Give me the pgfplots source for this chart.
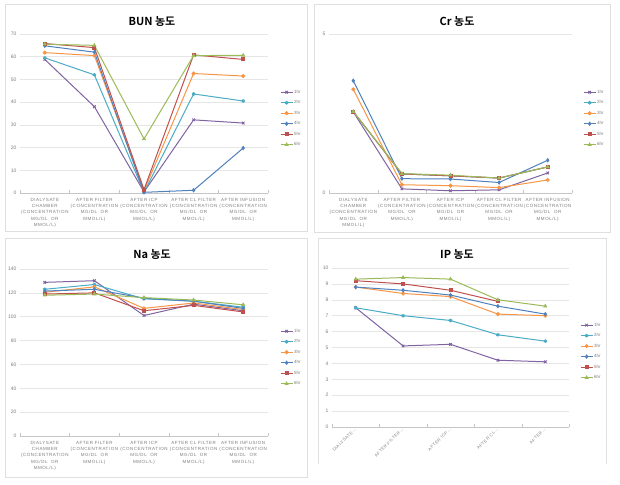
\documentclass[border=0pt]{standalone}
\usepackage{fontspec}
\usepackage{pgfplots}
\usepackage{pgfplotstable}
\pgfplotsset{compat=1.18}
\setmainfont{Liberation Sans}
\newfontfamily\kr{Noto Sans CJK KR}[BoldFont={Noto Sans CJK KR Bold}]
\newfontfamily\labfont{Liberation Sans}[LetterSpace=12]
\definecolor{c1}{HTML}{8064A2}
\definecolor{c2}{HTML}{4BACC6}
\definecolor{c3}{HTML}{F79646}
\definecolor{c4}{HTML}{4F81BD}
\definecolor{c5}{HTML}{C0504D}
\definecolor{c6}{HTML}{9BBB59}
\definecolor{tgray}{HTML}{7F7F7F}
\definecolor{ggray}{HTML}{E6E6E6}

\pgfplotstableread{
x s1 s2 s3 s4 s5 s6
0 58.8 59.5 61.8 64.8 65.8 65.5
1 38.0 52.0 60.5 62.0 64.0 65.0
2 0.5 0.3 1.0 0.3 1.5 23.8
3 32.2 43.6 52.6 1.2 60.8 60.5
4 30.8 40.5 51.5 19.8 58.8 60.6
}\bundata
\pgfplotstableread{
x s1 s2 s3 s4 s5 s6
0 2.55 2.56 3.26 3.53 2.56 2.56
1 0.13 0.60 0.26 0.45 0.60 0.61
2 0.07 0.54 0.23 0.44 0.54 0.56
3 0.10 0.47 0.17 0.33 0.47 0.47
4 0.63 0.82 0.41 1.03 0.82 0.82
}\crdata
\pgfplotstableread{
x s1 s2 s3 s4 s5 s6
0 128.8 123.0 120.5 121.5 119.0 118.0
1 130.2 127.0 125.0 123.0 120.0 119.0
2 101.0 115.0 107.0 115.5 105.0 116.0
3 110.5 113.0 111.5 113.0 109.5 114.0
4 105.0 108.0 106.0 107.0 104.0 110.0
}\nadata
\pgfplotstableread{
x s1 s2 s3 s4 s5 s6
0 7.5 7.5 8.8 8.8 9.2 9.3
1 5.1 7.0 8.4 8.6 9.0 9.4
2 5.2 6.7 8.2 8.3 8.6 9.3
3 4.2 5.8 7.1 7.6 7.9 8.0
4 4.1 5.4 7.0 7.1 nan 7.6
}\ipdata

\pgfplotsset{
  panel/.style={
    scale only axis,
    xmin=-0.5, xmax=4.5,
    xtick={0,...,4},
    minor xtick={-0.5,0.5,...,4.5},
    ymin=0,
    axis x line*=bottom, axis y line*=left,
    axis line style={-},
    x axis line style={draw=gray!45},
    y axis line style={draw=none},
    ymajorgrids, grid style={draw=ggray, line width=0.5pt},
    major tick length=0pt, minor tick length=3pt,
    tick style={draw=gray!45},
    /pgf/number format/assume math mode=true,
    yticklabel style={font=\fontsize{5}{6}\selectfont, text=tgray},
    xticklabel style={font=\labfont\fontsize{4.5}{6.3}\selectfont, text=tgray, align=center, yshift=-1.5pt},
    unbounded coords=jump,
    legend style={draw=none, fill=none, inner sep=0pt,
      font=\fontsize{4.5}{5}\selectfont, text=tgray,
      nodes={minimum height=10.5pt, inner sep=1pt}, row sep=0pt},
    legend cell align=left,
    legend image code/.code={\draw[mark repeat=2,mark phase=2] plot coordinates {(0pt,0pt) (6pt,0pt) (12pt,0pt)};},
    every axis plot/.append style={line width=1pt, mark size=1.5pt},
  },
  longlabels/.style={xticklabels={
    {DIALYSATE\\CHAMBER\\(CONCENTRATION\\MG/DL\ \ OR\\MMOL/L)},
    {AFTER FILTER\\(CONCENTRATION\\MG/DL\ \ OR\\MMOL/L)},
    {AFTER ICP\\(CONCENTRATION\\MG/DL\ \ OR\\MMOL/L)},
    {AFTER CL FILTER\\(CONCENTRATION\\MG/DL\ \ OR\\MMOL/L)},
    {AFTER INFUSION\\(CONCENTRATION\\MG/DL\ \ OR\\MMOL/L)}}},
  p1/.style={color=c1, mark=x, mark options={solid, scale=1.2}},
  p2/.style={color=c2, mark=asterisk, mark options={solid, scale=1.2}},
  p3/.style={color=c3, mark=*, mark options={solid}},
  p4/.style={color=c4, mark=diamond*, mark options={solid}},
  p5/.style={color=c5, mark=square*, mark options={solid}},
  p6/.style={color=c6, mark=triangle*, mark options={solid}},
}

\newcommand{\sixseries}[1]{%
  \addplot[p1] table[x=x,y=s1] {#1}; \addlegendentry{1hr}
  \addplot[p2] table[x=x,y=s2] {#1}; \addlegendentry{2hr}
  \addplot[p3] table[x=x,y=s3] {#1}; \addlegendentry{3hr}
  \addplot[p4] table[x=x,y=s4] {#1}; \addlegendentry{4hr}
  \addplot[p5] table[x=x,y=s5] {#1}; \addlegendentry{5hr}
  \addplot[p6] table[x=x,y=s6] {#1}; \addlegendentry{6hr}
}

\begin{document}
\begin{tikzpicture}
\useasboundingbox (0pt,0pt) rectangle (620pt,-484pt);
\fill[white] (0pt,0pt) rectangle (620pt,-484pt);
% frames
\draw[gray!25, line width=0.5pt] (5pt,-4pt) rectangle (307pt,-231pt);
\draw[gray!25, line width=0.5pt] (314pt,-4pt) rectangle (610pt,-232pt);
\draw[gray!25, line width=0.5pt] (5pt,-238pt) rectangle (307pt,-477pt);
\draw[gray!25, line width=0.5pt] (318pt,-464pt) -- (318pt,-238pt) -- (606pt,-238pt) -- (606pt,-464pt);
% titles
\node[font=\kr\bfseries\fontsize{11}{13}\selectfont] at (152pt,-21pt) {BUN 농도};
\node[font=\kr\bfseries\fontsize{11}{13}\selectfont] at (457pt,-21pt) {Cr 농도};
\node[font=\kr\bfseries\fontsize{11}{13}\selectfont] at (152pt,-254pt) {Na 농도};
\node[font=\kr\bfseries\fontsize{11}{13}\selectfont] at (457pt,-254pt) {IP 농도};

% BUN
\begin{axis}[panel, longlabels, at={(20pt,-193pt)}, anchor=south west,
  width=248pt, height=159pt, ymax=70, ytick={0,10,...,70},
  legend style={at={(1.048,0.668)}, anchor=north west}]
\sixseries{\bundata}
\end{axis}

% Cr
\begin{axis}[panel, longlabels, at={(329pt,-193pt)}, anchor=south west,
  width=243pt, height=159pt, ymax=5, ytick={0,5},
  legend style={at={(1.045,0.668)}, anchor=north west}]
\sixseries{\crdata}
\end{axis}

% Na
\begin{axis}[panel, longlabels, at={(20pt,-436pt)}, anchor=south west,
  width=248pt, height=167pt, ymax=140, ytick={0,20,...,140},
  legend style={at={(1.048,0.660)}, anchor=north west}]
\sixseries{\nadata}
\end{axis}

% IP
\begin{axis}[panel, at={(332pt,-427pt)}, anchor=south west,
  width=237pt, height=159pt, ymax=10, ytick={0,1,...,10},
  xticklabels={DIALYSATE…, AFTER FILTER…, AFTER ICP…, AFTER CL…, AFTER…},
  xticklabel style={rotate=45, anchor=east, align=right, yshift=0pt, xshift=3pt, font=\labfont\fontsize{4.2}{5}\selectfont},
  legend style={at={(1.046,0.675)}, anchor=north west}]
\sixseries{\ipdata}
\end{axis}
\end{tikzpicture}
\end{document}
